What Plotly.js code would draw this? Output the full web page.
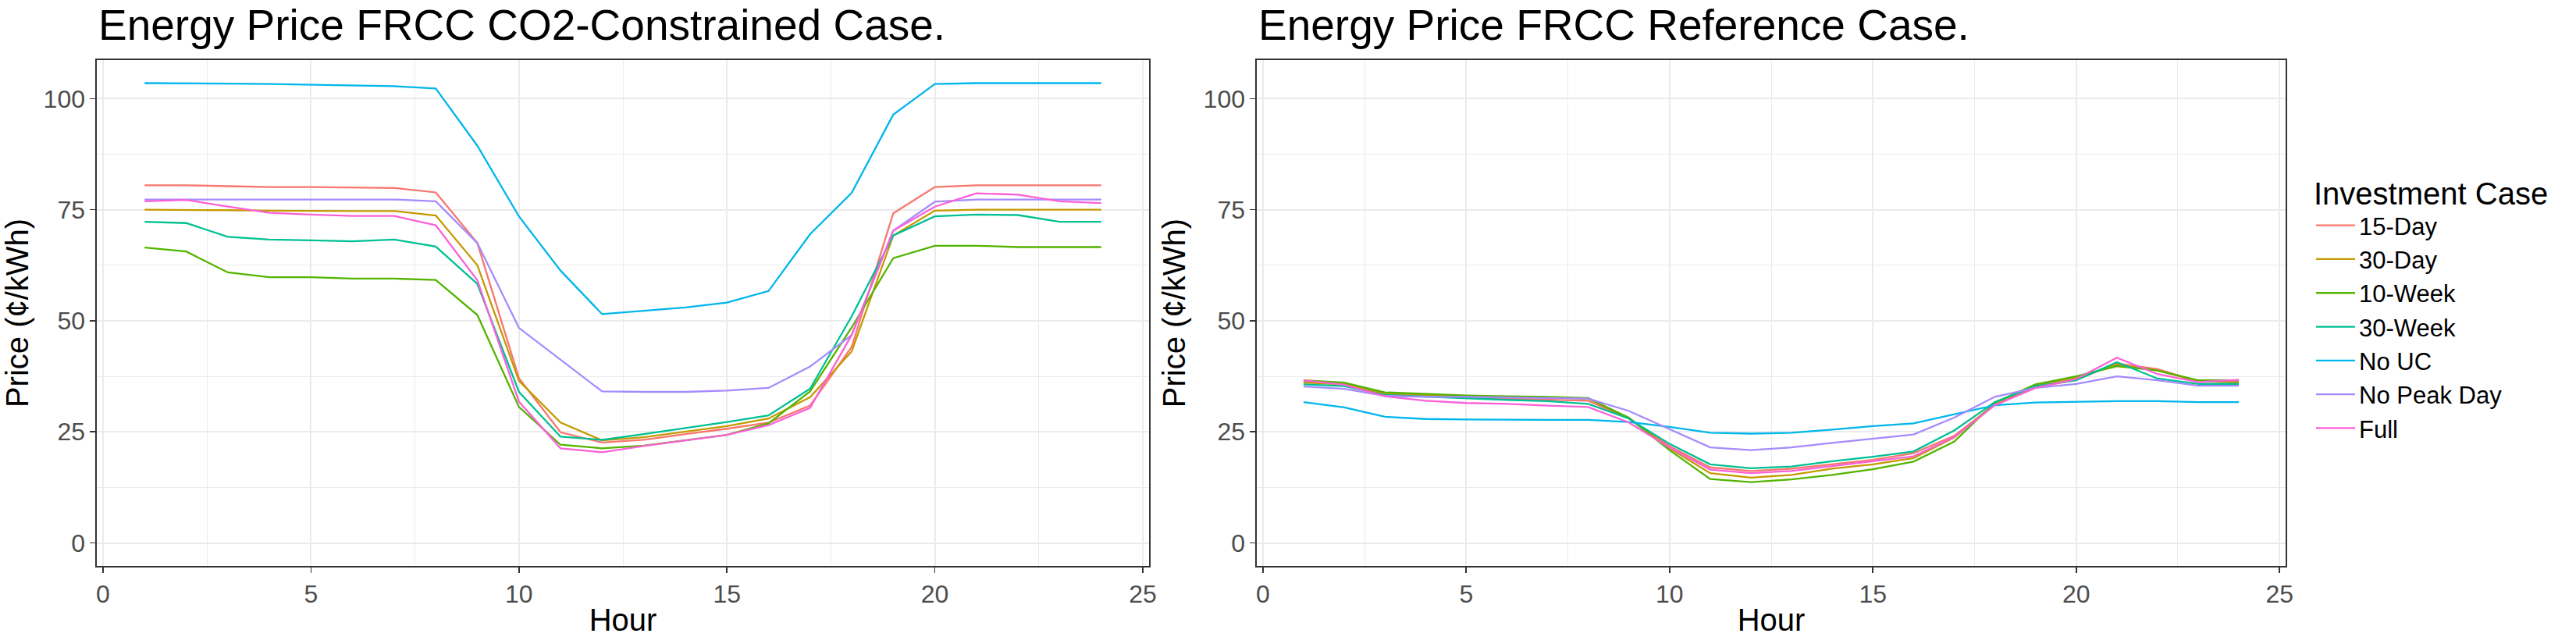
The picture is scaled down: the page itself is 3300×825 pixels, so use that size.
<!DOCTYPE html>
<html>
<head>
<meta charset="utf-8">
<script src="https://cdn.plot.ly/plotly-3.0.1.min.js"></script>
<style>
  html, body {margin:0; padding:0; background:#fff;}
  #chart {width:3300px; height:825px;}
</style>
</head>
<body>
<div id="chart"></div>
<script>
"use strict"

const hours = [1,2,3,4,5,6,7,8,9,10,11,12,13,14,15,16,17,18,19,20,21,22,23,24]
const cases = ["15-Day","30-Day","10-Week","30-Week","No UC","No Peak Day","Full"]
const caseColors = ["#F8766D","#C49A00","#53B400","#00C094","#00B6EB","#A58AFF","#FB61D7"]

// CO2-Constrained case, cents/kWh
const co2Day15   = [80.5,80.5,80.3,80.1,80.1,80.0,79.9,78.9,67.5,37.1,24.9,22.6,23.2,24.5,25.7,27.1,30.9,44.1,74.2,80.1,80.5,80.5,80.5,80.5]
const co2Day30   = [75.0,75.0,74.9,74.8,74.7,74.7,74.7,73.7,62.5,36.5,27.1,23.1,23.8,25.0,26.3,28.0,32.8,43.1,69.2,74.8,75.0,75.0,75.0,75.0]
const co2Week10  = [66.5,65.6,60.9,59.8,59.8,59.5,59.5,59.2,51.3,30.6,22.1,21.3,21.9,23.1,24.3,26.9,34.1,48.5,64.1,66.9,66.9,66.6,66.6,66.6]
const co2Week30  = [72.3,72.0,68.9,68.3,68.1,67.9,68.3,66.7,58.3,34.0,23.9,23.2,24.5,25.8,27.2,28.7,34.7,51.0,69.2,73.5,73.9,73.8,72.3,72.3]
const co2NoUC    = [103.5,103.5,103.4,103.3,103.1,103.0,102.8,102.3,89.4,73.5,61.3,51.5,52.2,53.0,54.1,56.7,69.5,78.8,96.4,103.3,103.5,103.5,103.5,103.5]
const co2NoPeak  = [77.3,77.3,77.3,77.3,77.3,77.3,77.3,76.9,67.5,48.4,41.3,34.1,34.0,34.0,34.3,34.9,39.7,46.8,70.3,76.8,77.3,77.3,77.3,77.3]
const co2Full    = [76.9,77.2,75.7,74.3,73.9,73.6,73.6,71.5,59.1,31.8,21.3,20.4,21.8,23.1,24.3,26.5,30.4,46.8,70.3,75.7,78.7,78.4,76.9,76.5]

// Reference case, cents/kWh
const refDay15   = [36.4,35.8,33.5,33.0,32.7,32.5,32.3,32.0,28.0,21.8,17.0,16.2,16.7,17.7,18.7,20.2,24.1,31.2,35.0,36.7,40.4,39.1,36.3,36.4]
const refDay30   = [36.1,35.7,33.6,33.3,33.0,32.8,32.7,32.5,28.2,21.3,15.7,14.7,15.3,16.7,17.7,19.1,23.7,31.3,35.4,37.2,40.1,38.8,36.4,36.1]
const refWeek10  = [36.6,36.1,33.9,33.5,33.2,33.0,32.9,32.6,28.1,20.9,14.4,13.7,14.3,15.3,16.6,18.3,22.8,31.6,35.7,37.5,39.8,38.8,36.6,36.6]
const refWeek30  = [35.7,35.3,33.3,32.9,32.5,32.2,31.9,31.3,28.0,22.3,17.7,16.8,17.2,18.4,19.4,20.6,25.3,31.7,35.3,36.6,40.7,37.0,35.8,35.8]
const refNoUC    = [31.7,30.5,28.4,27.9,27.8,27.7,27.7,27.7,27.2,26.1,24.8,24.6,24.8,25.5,26.3,26.9,28.9,31.0,31.6,31.8,31.9,31.9,31.7,31.7]
const refNoPeak  = [35.2,34.7,33.1,32.9,32.9,32.8,32.7,32.5,29.7,25.6,21.5,20.9,21.5,22.5,23.4,24.4,28.2,32.9,34.9,35.8,37.5,36.6,35.4,35.4]
const refFull    = [36.6,35.6,33.0,32.0,31.5,31.3,30.9,30.6,27.1,21.5,16.5,15.7,16.2,17.3,18.3,19.5,23.8,31.0,34.9,36.9,41.7,38.0,36.2,36.7]

const co2Series = [co2Day15, co2Day30, co2Week10, co2Week30, co2NoUC, co2NoPeak, co2Full]
const refSeries = [refDay15, refDay30, refWeek10, refWeek30, refNoUC, refNoPeak, refFull]

const xTicks = [0,5,10,15,20,25]
const yTicks = [0,25,50,75,100]
const panelTitles = ["Energy Price FRCC CO2-Constrained Case.", "Energy Price FRCC Reference Case."]

const FONT = "Liberation Sans, Arial, Helvetica, sans-serif"

const makeTraces = (series, xa, ya, showLegend) =>
  series.map((y,i)=>({
    x: hours,
    y: y,
    name: cases[i],
    legendgroup: cases[i],
    showlegend: showLegend,
    mode: "lines",
    type: "scatter",
    line: {color: caseColors[i], width: 2.3},
    xaxis: xa,
    yaxis: ya,
    hoverinfo: "skip",
  }))

const data = [].concat(
  makeTraces(co2Series, "x", "y", true),
  makeTraces(refSeries, "x2", "y2", false)
)

const xAxis = (domain, anchor) => ({
  domain: domain,
  anchor: anchor,
  range: [-0.15, 25.15],
  tickmode: "array",
  tickvals: xTicks,
  ticks: "outside",
  ticklen: 7,
  tickwidth: 1.6,
  tickcolor: "#333333",
  tickfont: {family: FONT, size: 32, color: "#4D4D4D"},
  showgrid: true,
  gridcolor: "#EBEBEB",
  gridwidth: 2,
  minor: {dtick: 2.5, tick0: 0, showgrid: true, gridcolor: "#EBEBEB", gridwidth: 1, ticks: ""},
  zeroline: false,
  showline: true,
  mirror: true,
  linecolor: "#333333",
  linewidth: 1.6,
  title: {text: "Hour", font: {family: FONT, size: 40, color: "#000"}, standoff: 2},
})

const yAxis = (domain, anchor) => ({
  domain: domain,
  anchor: anchor,
  range: [-5.18, 108.68],
  tickmode: "array",
  tickvals: yTicks,
  ticks: "outside",
  ticklen: 7,
  tickwidth: 1.6,
  tickcolor: "#333333",
  tickfont: {family: FONT, size: 32, color: "#4D4D4D"},
  showgrid: true,
  gridcolor: "#EBEBEB",
  gridwidth: 2,
  minor: {dtick: 12.5, tick0: 0, showgrid: true, gridcolor: "#EBEBEB", gridwidth: 1, ticks: ""},
  zeroline: false,
  showline: true,
  mirror: true,
  linecolor: "#333333",
  linewidth: 1.6,
  title: {text: "Price (¢/kWh)", font: {family: FONT, size: 40, color: "#000"}, standoff: 10},
})

const yDomain = [1-725/825, 1-77/825]

const layout = {
  width: 3300,
  height: 825,
  margin: {l:0, r:0, t:0, b:0, pad:0},
  paper_bgcolor: "#fff",
  plot_bgcolor: "#fff",
  font: {family: FONT, color: "#000"},
  xaxis: xAxis([124/3300, 1472/3300], "y"),
  yaxis: yAxis(yDomain, "x"),
  xaxis2: xAxis([1610/3300, 2928/3300], "y2"),
  yaxis2: yAxis(yDomain, "x2"),
  showlegend: true,
  legend: {
    x: 2962/3300,
    xanchor: "left",
    y: 1-210/825,
    yanchor: "top",
    itemwidth: 50,
    font: {family: FONT, size: 31, color: "#000"},
    title: {text: "Investment Case", font: {family: FONT, size: 40, color: "#000"}},
    bgcolor: "rgba(0,0,0,0)",
    tracegroupgap: 0,
  },
  annotations: panelTitles.map((t,i)=>({
    text: t,
    xref: "paper",
    yref: "paper",
    x: [124/3300, 1610/3300][i],
    xanchor: "left",
    y: 1-32/825,
    yanchor: "middle",
    showarrow: false,
    font: {family: FONT, size: 55, color: "#000"},
  })),
}

Plotly.newPlot("chart", data, layout, {
  displayModeBar: false,
  staticPlot: true,
})
</script>
</body>
</html>
